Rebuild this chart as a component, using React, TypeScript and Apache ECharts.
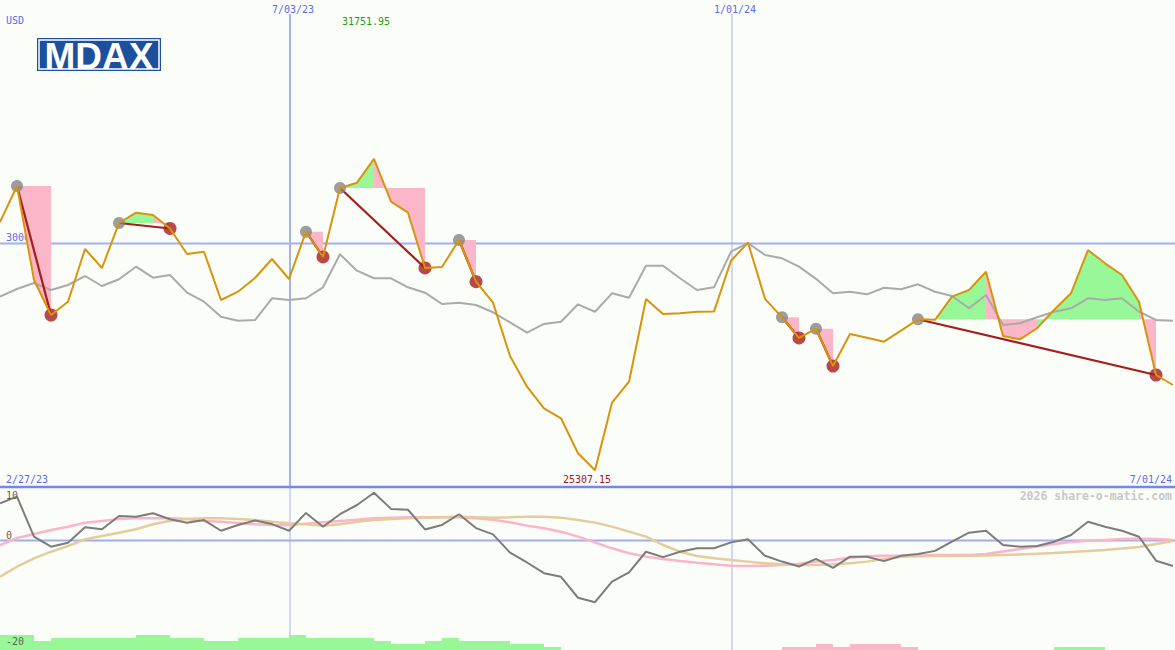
import React, { useEffect, useRef } from "react";
import * as echarts from "echarts";

// ---------- data ----------
const currency = "USD";
const title = "MDAX";
const rangeLabels = ["2/27/23", "7/01/24"];
const dateTickIndex = [17, 43];
const dateTickLabels = ["7/03/23", "1/01/24"];
const priceRefLevels = [30000];
const priceRefLabels = ["30000"];
const oscTickLabels = ["10", "0", "-20"];
const watermark = "2026 share-o-matic.com";

const price = [
  30445, 31190, 29244, 28520, 28795, 29886, 29493, 30424, 30638, 30590,
  30311, 29783, 29830, 28830, 29002, 29286, 29679, 29265, 30244, 29721,
  31149, 31259, 31751.95, 30865, 30638, 29493, 29514, 30072, 29209, 28775,
  27671, 27036, 26589, 26382, 25657, 25307.15, 26705, 27139, 28851, 28541,
  28555, 28588, 28590, 29644, 30017, 28855, 28472, 28044, 28236, 27464,
  28127, 28050, 27967, 28195, 28431, 28420, 28899, 29037, 29416, 28085,
  28017, 28245, 28623, 28969, 29865, 29590, 29348, 28795, 27278, 27071,
];

const compareIndex = [
  28899, 29058, 29182, 29037, 29141, 29327, 29120, 29259, 29520, 29292,
  29348, 28982, 28795, 28485, 28402, 28416, 28866, 28830, 28866, 29093,
  29776, 29437, 29280, 29280, 29093, 28982, 28748, 28775, 28727, 28576,
  28369, 28154, 28334, 28381, 28741, 28588, 28969, 28878, 29540, 29540,
  29280, 29037, 29093, 29830, 30010, 29762, 29694, 29520, 29269, 28969,
  29002, 28948, 29085, 29052, 29155, 29002, 28913, 28659, 28934, 28313,
  28348, 28472, 28588, 28659, 28866, 28830, 28866, 28588, 28416, 28402,
];

const momentum = [
  8.35, 9.83, 0.87, -1.37, -0.47, 2.98, 2.53, 5.51, 5.35, 6.11,
  4.77, 4.0, 4.6, 2.2, 3.5, 4.5, 3.7, 2.2, 6.2, 3.1,
  5.9, 7.97, 10.7, 7.1, 6.9, 2.5, 3.5, 5.9, 2.8, 1.4,
  -2.7, -4.9, -7.3, -8.1, -12.8, -13.8, -9.2, -7.1, -2.5, -3.7,
  -2.5, -1.7, -1.7, -0.4, 0.3, -3.4, -4.7, -5.8, -4.1, -6.1,
  -3.6, -3.6, -4.6, -3.4, -3.0, -2.3, -0.25, 1.77, 2.2, -1.0,
  -1.36, -1.21, -0.25, 1.25, 4.2, 3.1, 2.2, 0.87, -4.5, -5.7,
];

const avgFast = [
  -1.0, 0.58, 1.46, 2.37, 3.1, 4.0, 4.39, 4.84, 5.0, 5.0,
  5.0, 4.84, 4.4, 4.24, 3.94, 3.64, 3.49, 3.49, 3.79, 4.09,
  4.39, 4.69, 4.99, 5.14, 5.21, 5.21, 5.21, 5.21, 4.99, 4.69,
  4.09, 3.35, 2.75, 2.0, 0.88, -0.39, -1.73, -2.85, -3.59, -4.12,
  -4.56, -4.94, -5.31, -5.61, -5.68, -5.61, -5.46, -5.16, -4.71, -4.34,
  -3.82, -3.52, -3.37, -3.37, -3.3, -3.22, -3.22, -3.2, -3.0, -2.44,
  -1.88, -1.32, -0.76, -0.31, -0.04, 0.13, 0.36, 0.43, 0.38, 0.13,
];

const avgSlow = [
  -8.08, -5.85, -3.97, -2.49, -1.21, 0.29, 1.03, 1.77, 2.53, 3.65,
  4.46, 4.84, 5.0, 4.99, 4.84, 4.62, 4.24, 3.87, 3.64, 3.35,
  3.64, 4.24, 4.62, 4.84, 4.99, 5.14, 5.21, 5.36, 5.21, 5.14,
  5.21, 5.36, 5.36, 5.14, 4.62, 4.02, 3.12, 2.0, 0.88, -0.98,
  -2.48, -3.45, -3.97, -4.34, -4.71, -5.09, -5.31, -5.46, -5.46, -5.31,
  -5.09, -4.71, -4.12, -3.6, -3.5, -3.45, -3.45, -3.4, -3.35, -3.22,
  -3.1, -2.95, -2.78, -2.55, -2.33, -2.1, -1.77, -1.43, -0.76, -0.09,
];

const histogram = [
  5, 5, 3, 4, 4, 4, 4, 4, 5, 5,
  4, 4, 3, 3, 4, 4, 4, 5, 4, 4,
  4, 4, 3, 2, 2, 3, 4, 3, 3, 3,
  2, 2, 1, 0, 0, 0, 0, 0, 0, 0,
  0, 0, 0, 0, 0, 0, -1, -1, -2, -1,
  -2, -2, -2, -1, 0, 0, 0, 0, 0, 0,
  0, 0, 1, 1, 1, 0, 0, 0, 0, 0,
];

const signalStart = [1, 7, 18, 20, 27, 46, 48, 54];
const signalEnd = [3, 10, 19, 25, 28, 47, 49, 68];

// ---------- styling ----------
const W = 1175;
const H = 650;
const MAIN_H = 487;
const X_MAX = W / 17;
const MONO = '"DejaVu Sans Mono", monospace';
const BLUE_TXT = "#5a6cf0";
const REF_LINE = "#a3b0f2";
const GREEN_FILL = "#98f898";
const PINK_FILL = "#fbb6c8";
const ORANGE = "#d8940c";
const DARK_RED = "#a51d1d";

export default function App() {
  const ref = useRef<HTMLDivElement>(null);

  useEffect(() => {
    if (!ref.current) return;
    const chart = echarts.init(ref.current, undefined, { renderer: "svg" });

    const idx = (arr: number[]) => arr.map((v, i) => [i, v]);

    // fill polygons between price and the signal's start level
    const fills: number[][] = [];
    signalStart.forEach((s, j) => {
      const e = signalEnd[j];
      const level = price[s];
      for (let k = s; k < e; k++) {
        fills.push([k, price[k], price[k + 1], level, price[k + 1] >= level ? 1 : 0]);
      }
    });

    const signalLines = signalStart.map((s, j) => [s, price[s], signalEnd[j], price[signalEnd[j]]]);

    let maxI = 0;
    let minI = 0;
    price.forEach((v, i) => {
      if (v > price[maxI]) maxI = i;
      if (v < price[minI]) minI = i;
    });

    const oscLabelY = [495.5, 535, 641.5];

    const option: any = {
      animation: false,
      backgroundColor: "#fbfdf8",
      grid: [
        { left: 0, top: 0, width: W, height: MAIN_H },
        { left: 0, top: MAIN_H, width: W, height: H - MAIN_H },
      ],
      xAxis: [
        { gridIndex: 0, type: "value", min: 0, max: X_MAX, show: false },
        { gridIndex: 1, type: "value", min: 0, max: X_MAX, show: false },
      ],
      yAxis: [
        { gridIndex: 0, type: "value", min: 24959.5, max: 35040.5, show: false },
        { gridIndex: 1, type: "value", min: -24.5, max: 12, show: false },
        { gridIndex: 1, type: "value", min: 0, max: (H - MAIN_H) / 3, show: false },
      ],
      graphic: [
        {
          type: "text", x: 6, y: 20, z: 100,
          style: { text: currency, fill: BLUE_TXT, font: `10px ${MONO}`, verticalAlign: "middle" },
        },
        {
          type: "group", x: 37, y: 38, z: 100,
          children: [
            { type: "rect", shape: { x: 0, y: 0, width: 124, height: 33 }, style: { fill: "#1c4f9d" } },
            { type: "rect", shape: { x: 2, y: 2, width: 120, height: 29 }, style: { fill: "none", stroke: "#ffffff", lineWidth: 1.5 } },
            {
              type: "text", x: 62, y: 18,
              style: { text: title, fill: "#ffffff", font: 'bold 37px "Liberation Sans", Arial, sans-serif', align: "center", verticalAlign: "middle" },
            },
          ],
        },
        {
          type: "text", x: 6, y: 479, z: 100,
          style: { text: rangeLabels[0], fill: BLUE_TXT, font: `10px ${MONO}`, verticalAlign: "middle" },
        },
        {
          type: "text", x: 1172, y: 479, z: 100,
          style: { text: rangeLabels[1], fill: BLUE_TXT, font: `10px ${MONO}`, align: "right", verticalAlign: "middle" },
        },
        {
          type: "text", x: 1172, y: 496, z: 100,
          style: { text: watermark, fill: "#c8c8c8", font: `bold 11.5px ${MONO}`, align: "right", verticalAlign: "middle" },
        },
        {
          type: "line", z: 50,
          shape: { x1: 0, y1: MAIN_H, x2: W, y2: MAIN_H },
          style: { stroke: "#7686ec", lineWidth: 2.5 },
        },
        ...oscTickLabels.map((t, i) => ({
          type: "text", x: 6, y: oscLabelY[i], z: 100,
          style: { text: t, fill: "#606060", font: `10px ${MONO}`, verticalAlign: "middle" },
        })),
      ],
      series: [
        // vertical date lines (main)
        {
          type: "custom", xAxisIndex: 0, yAxisIndex: 0, z: 1, silent: true,
          data: dateTickIndex.map((d, i) => [d, 30000, i]),
          renderItem: (params: any, api: any) => {
            const i = api.value(2);
            const x = api.coord([api.value(0), 30000])[0] + 1;
            const cs = params.coordSys;
            return {
              type: "group",
              children: [
                {
                  type: "line",
                  shape: { x1: x, y1: cs.y + 14, x2: x, y2: cs.y + cs.height },
                  style: { stroke: i === 0 ? REF_LINE : "#aab2dc", lineWidth: i === 0 ? 2 : 1 },
                },
                {
                  type: "text", x: x + 3, y: 9,
                  style: { text: dateTickLabels[i], fill: BLUE_TXT, font: `10px ${MONO}`, align: "center", verticalAlign: "middle" },
                },
              ],
            };
          },
        },
        // horizontal price ref line
        {
          type: "custom", xAxisIndex: 0, yAxisIndex: 0, z: 1, silent: true,
          data: priceRefLevels.map((v, i) => [0, v, i]),
          renderItem: (params: any, api: any) => {
            const y = api.coord([0, api.value(1)])[1];
            const cs = params.coordSys;
            return {
              type: "group",
              children: [
                { type: "line", shape: { x1: cs.x, y1: y, x2: cs.x + cs.width, y2: y }, style: { stroke: REF_LINE, lineWidth: 2 } },
                {
                  type: "text", x: 6, y: y - 6,
                  style: { text: priceRefLabels[api.value(2)], fill: BLUE_TXT, font: `10px ${MONO}`, verticalAlign: "middle" },
                },
              ],
            };
          },
        },
        // vertical date lines (lower)
        {
          type: "custom", xAxisIndex: 1, yAxisIndex: 1, z: 1, silent: true,
          data: dateTickIndex.map((d, i) => [d, 0, i]),
          renderItem: (params: any, api: any) => {
            const x = api.coord([api.value(0), 0])[0] + 1;
            const cs = params.coordSys;
            return {
              type: "line",
              shape: { x1: x, y1: cs.y, x2: x, y2: cs.y + cs.height },
              style: { stroke: "#a8b2ee", lineWidth: 1 },
            };
          },
        },
        // zero line (lower)
        {
          type: "custom", xAxisIndex: 1, yAxisIndex: 1, z: 1, silent: true,
          data: [[0, 0]],
          renderItem: (params: any, api: any) => {
            const y = api.coord([0, 0])[1];
            const cs = params.coordSys;
            return {
              type: "line",
              shape: { x1: cs.x, y1: y, x2: cs.x + cs.width, y2: y },
              style: { stroke: "#a2acf0", lineWidth: 2 },
            };
          },
        },
        // histogram bars
        {
          type: "custom", xAxisIndex: 1, yAxisIndex: 2, z: 1, silent: true,
          data: histogram.map((v, i) => [i, Math.abs(v), v >= 0 ? 1 : 0]),
          renderItem: (params: any, api: any) => {
            const h = api.value(1);
            if (!h) return null;
            const i = api.value(0);
            const a = api.coord([i, 0]);
            const b = api.coord([i + 1, h]);
            return {
              type: "rect",
              shape: { x: a[0], y: b[1], width: b[0] - a[0], height: a[1] - b[1] },
              style: { fill: api.value(2) ? GREEN_FILL : PINK_FILL },
            };
          },
        },
        // signal fills
        {
          type: "custom", xAxisIndex: 0, yAxisIndex: 0, z: 2, silent: true,
          data: fills,
          renderItem: (params: any, api: any) => {
            const k = api.value(0);
            const lv = api.value(3);
            const pts = [
              api.coord([k, lv]),
              api.coord([k, api.value(1)]),
              api.coord([k + 1, api.value(2)]),
              api.coord([k + 1, lv]),
            ];
            return {
              type: "polygon",
              shape: { points: pts },
              style: { fill: api.value(4) ? GREEN_FILL : PINK_FILL },
            };
          },
        },
        // comparison line
        {
          type: "line", xAxisIndex: 0, yAxisIndex: 0, z: 3, silent: true,
          data: idx(compareIndex), symbol: "none",
          lineStyle: { color: "#aaaaaa", width: 2 },
        },
        // signal connecting lines
        {
          type: "custom", xAxisIndex: 0, yAxisIndex: 0, z: 4, silent: true,
          data: signalLines,
          renderItem: (params: any, api: any) => {
            const a = api.coord([api.value(0), api.value(1)]);
            const b = api.coord([api.value(2), api.value(3)]);
            return {
              type: "line",
              shape: { x1: a[0], y1: a[1], x2: b[0], y2: b[1] },
              style: { stroke: DARK_RED, lineWidth: 2.2 },
            };
          },
        },
        // start dots
        {
          type: "scatter", xAxisIndex: 0, yAxisIndex: 0, z: 5, silent: true,
          data: signalStart.map((s) => [s, price[s]]),
          symbolSize: 12, itemStyle: { color: "#858585" },
        },
        // end dots
        {
          type: "scatter", xAxisIndex: 0, yAxisIndex: 0, z: 5, silent: true,
          data: signalEnd.map((s) => [s, price[s]]),
          symbolSize: 13, itemStyle: { color: DARK_RED },
        },
        // price line
        {
          type: "line", xAxisIndex: 0, yAxisIndex: 0, z: 6, silent: true,
          data: idx(price), symbol: "none",
          lineStyle: { color: ORANGE, width: 2 },
        },
        // extreme labels
        {
          type: "custom", xAxisIndex: 0, yAxisIndex: 0, z: 7, silent: true,
          data: [
            [maxI, price[maxI], 1],
            [minI, price[minI], 0],
          ],
          renderItem: (params: any, api: any) => {
            const isMax = api.value(2) === 1;
            const x = api.coord([api.value(0), api.value(1)])[0];
            return {
              type: "text", x: x - 8, y: isMax ? 21 : 479,
              style: {
                text: Number(api.value(1)).toFixed(2),
                fill: isMax ? "#1c9c1c" : "#a01818",
                font: `10px ${MONO}`, align: "center", verticalAlign: "middle",
              },
            };
          },
        },
        // lower panel lines
        {
          type: "line", xAxisIndex: 1, yAxisIndex: 1, z: 3, silent: true,
          data: idx(avgFast), symbol: "none",
          lineStyle: { color: "#fcb4c8", width: 2.5 },
        },
        {
          type: "line", xAxisIndex: 1, yAxisIndex: 1, z: 4, silent: true,
          data: idx(avgSlow), symbol: "none",
          lineStyle: { color: "#e4cc9e", width: 2.5 },
        },
        {
          type: "line", xAxisIndex: 1, yAxisIndex: 1, z: 5, silent: true,
          data: idx(momentum), symbol: "none",
          lineStyle: { color: "#7c7c7c", width: 2 },
        },
      ],
    };

    chart.setOption(option);
    return () => chart.dispose();
  }, []);

  return (
    <div
      ref={ref}
      style={{ position: "fixed", left: 0, top: 0, width: W, height: H }}
    />
  );
}
